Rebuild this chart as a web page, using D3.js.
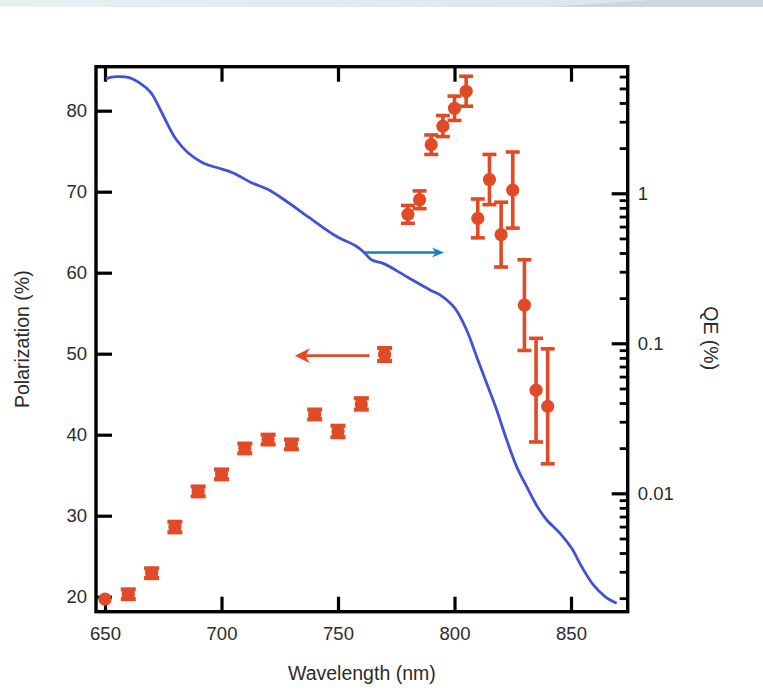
<!DOCTYPE html>
<html><head><meta charset="utf-8">
<script src="https://cdn.jsdelivr.net/npm/d3@7"></script>
<style>
html,body{margin:0;padding:0;background:#fff;}
svg{display:block;font-family:"Liberation Sans",Arial,sans-serif;}
</style></head>
<body>
<script>
// ---- data ----
const polWavelength = [650,660,670,680,690,700,710,720,730,740,750,760,770,780,785,790,795,800,805,810,815,820,825,830,835,840];
const polValue      = [19.7,20.3,22.9,28.6,33.0,35.1,38.3,39.4,38.8,42.5,40.4,43.8,49.9,67.2,69.0,75.8,78.1,80.3,82.4,66.7,71.5,64.7,70.2,56.0,45.5,43.5];
const polError      = [0.3,0.6,0.6,0.65,0.6,0.6,0.6,0.6,0.6,0.6,0.7,0.7,0.8,1.1,1.1,1.2,1.3,1.5,1.85,2.4,3.1,4.0,4.7,5.6,6.4,7.1];
const qeWavelength = [650.4,654.7,660.4,664.7,669.7,672.6,676.2,680.5,685.5,691.9,700.5,704.8,713.4,719.8,727.7,737.7,749.1,757.7,760.9,764.5,769.4,779.5,789.5,793.8,800.2,805.2,809.5,813.8,818.1,822.4,826.7,831.0,836.0,839.6,845.3,850.3,854.6,859.6,864.6,869.6];
const qeValue      = [5.81,5.99,5.90,5.46,4.69,3.92,3.03,2.29,1.87,1.60,1.445,1.372,1.166,1.063,0.888,0.688,0.519,0.445,0.408,0.359,0.341,0.278,0.227,0.210,0.171,0.1227,0.0814,0.0541,0.0359,0.0227,0.0150,0.01107,0.00794,0.00664,0.00541,0.00430,0.00324,0.00245,0.00205,0.00185];
const xTicks = [650,700,750,800,850];
const yTicks = [20,30,40,50,60,70,80];
const qeMajorTicks = [0.01,0.1,1];
const qeTickLabels = ["0.01","0.1","1"];
// annotation arrows (data units: wavelength, polarization)
const blueArrow = {from:[761.5,62.5], to:[795.5,62.5]};
const redArrow  = {from:[763.5,49.75], to:[731.5,49.75]};

const W=763,H=697;
const svg=d3.select("body").append("svg").attr("width",W).attr("height",H);

// top banner
const defs=svg.append("defs");
const g1=defs.append("linearGradient").attr("id","band");
g1.append("stop").attr("offset","0").attr("stop-color","#eaeff2");
g1.append("stop").attr("offset","1").attr("stop-color","#dbe2e9");
svg.append("rect").attr("x",0).attr("y",0).attr("width",W).attr("height",7).attr("fill","url(#band)");
svg.append("path").attr("d","M545,7 L650,0 L763,0 L763,7 Z").attr("fill","#cdd6df");

const L=96,R=627.7,T=66.7,B=611.7;
const x=d3.scaleLinear().domain([646.14,874.33]).range([L,R]);
const y=d3.scaleLinear().domain([18.15,85.43]).range([B,T]);
const yR=d3.scaleLog().domain([0.001625,6.98]).range([B,T]);

const tickColor="#000", labelColor="#2b2b2b";
function style(g){
  g.select(".domain").remove();
  g.selectAll(".tick line").attr("stroke",tickColor).attr("stroke-width",3.2);
  g.selectAll(".tick text").attr("fill",labelColor).attr("font-size","18.5px").attr("font-family","Liberation Sans, Arial, sans-serif");
}
// bottom
svg.append("g").attr("transform",`translate(0,${B})`)
  .call(d3.axisBottom(x).tickValues(xTicks).tickSizeInner(-15).tickSizeOuter(0).tickPadding(15).tickFormat(d3.format("d"))).call(style);
// top
svg.append("g").attr("transform",`translate(0,${T})`)
  .call(d3.axisTop(x).tickValues(xTicks).tickSizeInner(-15).tickSizeOuter(0).tickFormat("")).call(style);
// left
svg.append("g").attr("transform",`translate(${L},0)`)
  .call(d3.axisLeft(y).tickValues(yTicks).tickSizeInner(-16).tickSizeOuter(0).tickPadding(9).tickFormat(d3.format("d"))).call(style);
// right minor
const minor=[];
[0.001,0.01,0.1,1].forEach(d=>{for(let k=1;k<=9;k++){const v=d*k; if(v>=0.001625&&v<=6.98&&k>1) minor.push(v);}});
svg.append("g").attr("transform",`translate(${R},0)`)
  .call(d3.axisRight(yR).tickValues(minor).tickSizeInner(-8).tickSizeOuter(0).tickFormat("")).call(style)
  .selectAll(".tick line").attr("stroke-width",2.8);
// right major
svg.append("g").attr("transform",`translate(${R},0)`)
  .call(d3.axisRight(yR).tickValues(qeMajorTicks).tickSizeInner(-16).tickSizeOuter(0).tickPadding(10)
    .tickFormat((d,i)=>qeTickLabels[i])).call(style);

// frame
svg.append("rect").attr("x",L).attr("y",T).attr("width",R-L).attr("height",B-T)
  .attr("fill","none").attr("stroke","#000").attr("stroke-width",3.4);

// QE curve
const line=d3.line().x((d,i)=>x(qeWavelength[i])).y((d,i)=>yR(qeValue[i])).curve(d3.curveCatmullRom);
svg.append("path").datum(qeValue).attr("d",line).attr("fill","none")
  .attr("stroke","#4152d6").attr("stroke-width",2.8).attr("stroke-linejoin","round");

// error bars + markers
const red="#e04b25";
const pts=svg.append("g");
polValue.forEach((v,i)=>{
  const cx=x(polWavelength[i]), y1=y(v-polError[i]), y2=y(v+polError[i]);
  const small=polError[i]<1;
  const sw=small?4.2:3.6, hw=small?7.5:7;
  pts.append("line").attr("x1",cx).attr("x2",cx).attr("y1",y1).attr("y2",y2).attr("stroke",red).attr("stroke-width",3.6);
  if(polError[i]>0.35)[y1,y2].forEach(yy=>pts.append("line").attr("x1",cx-hw).attr("x2",cx+hw).attr("y1",yy).attr("y2",yy).attr("stroke",red).attr("stroke-width",sw));
  pts.append("circle").attr("cx",cx).attr("cy",y(v)).attr("r",6.6).attr("fill",red);
});

// arrows
function arrow(a,color,sw,hl,hw){
  const x1=x(a.from[0]),y1=y(a.from[1]),x2=x(a.to[0]),y2=y(a.to[1]);
  const dir=Math.sign(x2-x1);
  svg.append("line").attr("x1",x1).attr("y1",y1).attr("x2",x2-dir*hl*0.6).attr("y2",y2).attr("stroke",color).attr("stroke-width",sw);
  svg.append("path").attr("d",`M${x2},${y2} L${x2-dir*hl},${y2-hw} L${x2-dir*hl*0.7},${y2} L${x2-dir*hl},${y2+hw} Z`).attr("fill",color);
}
arrow(blueArrow,"#1c7dc0",2.6,12,5);
arrow(redArrow,"#e04b25",2.8,15,7.5);

// axis titles
svg.append("text").attr("x",(L+R)/2).attr("y",680).attr("text-anchor","middle")
  .attr("font-size","19.5px").attr("fill",labelColor).text("Wavelength (nm)");
svg.append("text").attr("transform",`translate(29,${(T+B)/2}) rotate(-90)`).attr("text-anchor","middle")
  .attr("font-size","19.5px").attr("fill",labelColor).text("Polarization (%)");
svg.append("text").attr("transform",`translate(704,${(T+B)/2-1}) rotate(90)`).attr("text-anchor","middle")
  .attr("font-size","19.5px").attr("fill",labelColor).text("QE (%)");
</script>
</body></html>
